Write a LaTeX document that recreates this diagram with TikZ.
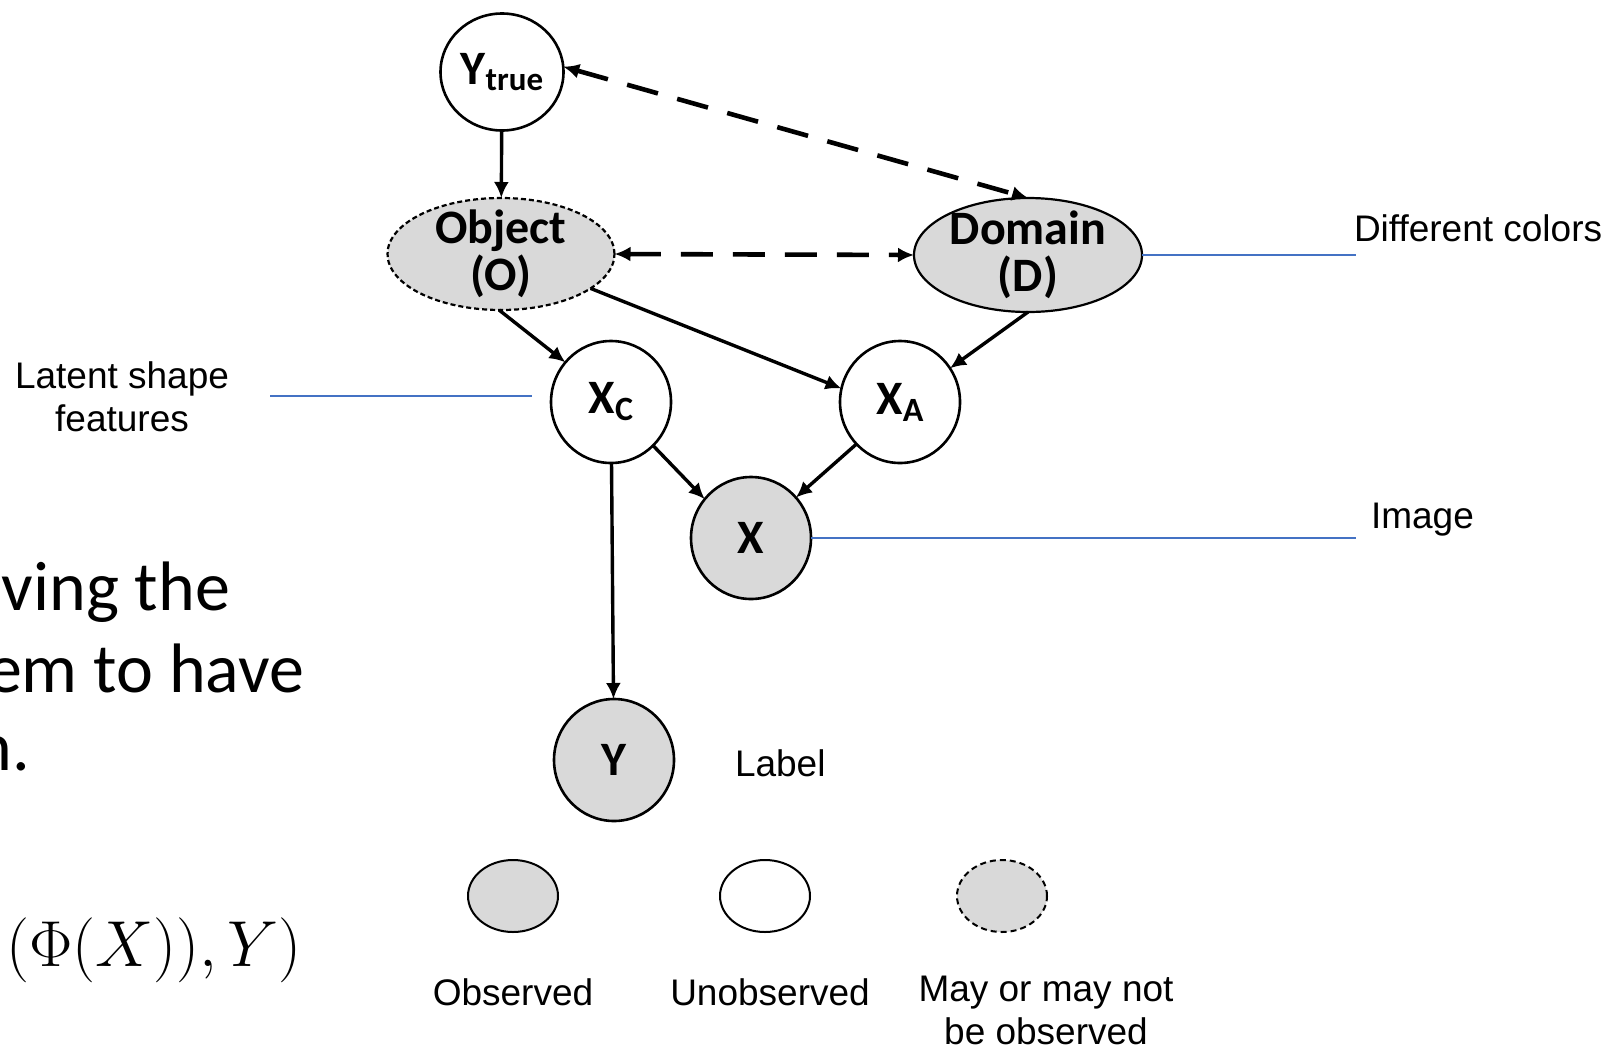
\RequirePackage{fix-cm}
\documentclass[tikz,border=0pt]{standalone}
\usepackage[no-math]{fontspec}
\setmainfont{Liberation Sans}
\newfontfamily\carl{Carlito}
\usetikzlibrary{arrows.meta,shapes.geometric}
\definecolor{nodegray}{gray}{0.85}
\definecolor{leaderblue}{RGB}{68,114,196}
\begin{document}
\begin{tikzpicture}[x=0.5pt,y=-0.5pt,
  every node/.style={inner sep=0pt,outer sep=0pt},
  var/.style={ellipse,draw,line width=1.3pt,minimum width=60pt,minimum height=61pt,align=center,
    font=\carl\bfseries\fontsize{24}{23.5}\selectfont},
  obs/.style={var,fill=nodegray},
  tip/.tip={Latex[length=8pt,width=7.5pt]},
  edge/.style={line width=1.7pt,-tip},
  dedge/.style={line width=2.3pt,dash pattern=on 16pt off 10pt,tip-tip},
  lead/.style={leaderblue,line width=0.8pt},
  lbl/.style={font=\fontsize{18.5}{21.5}\selectfont,align=center},
  big/.style={font=\carl\fontsize{35}{40}\selectfont,anchor=base east},
  leg/.style={ellipse,draw,line width=1pt,minimum width=45pt,minimum height=36pt},
]
\useasboundingbox (0,0) rectangle (1611,1050);
\fill[white] (0,0) rectangle (1611,1050);

% left slide text (cut off at the left edge)
\node[big] (t1) at (230,610) {ving the};
\node[big] (t2) at (304,692) {em to have};
\node[big] (t3) at (30,770) {n.};
\node[anchor=base east,font=\fontsize{32.5}{40}\selectfont] (f1) at (302,966) {$(\Phi(X)),Y)$};

% graph nodes
\node[var,minimum width=61.5pt,minimum height=58.5pt] (Yt) at (502,72)
  {Y\raisebox{-0.25ex}{\fontsize{16.5}{16.5}\selectfont true}};
\node[obs,draw=none,inner sep=-6pt,minimum width=113.5pt,minimum height=56pt] (O) at (501,254) {Object\\(O)};
\draw[line width=1.1pt,dash pattern=on 2.5pt off 1.5pt] (O.center) ellipse [x radius=56.75pt,y radius=28pt];
\node[obs,line width=1.1pt,inner sep=-6pt,minimum width=114pt,minimum height=57pt] (D) at (1028,255) {Domain\\(D)};
\node[var] (Xc) at (611,402) {X\raisebox{-0.3ex}{\fontsize{17}{17}\selectfont C}};
\node[var] (XA) at (900,402) {X\raisebox{-0.3ex}{\fontsize{17}{17}\selectfont A}};
\node[obs] (X) at (751,538) {X};
\node[obs] (Y) at (614,760) {Y};

% edges
\draw[edge] (Yt) -- (O);
\draw[dedge] (Yt.5) -- (D.north);
\draw[dedge] (O.east) -- (D.west);
\draw[edge] (O.-92) -- (Xc.139);
\draw[edge] (O.-21) -- (XA.167);
\draw[edge] (D.south) -- (XA.34);
\draw[edge] (Xc.-46) -- (X.140);
\draw[edge] (XA.-136) -- (X.42);
\draw[edge] (Xc) -- (Y);

% annotations
\node[lbl] (lat) at (122,397) {Latent shape\\features};
\coordinate (latA) at (270,396);
\coordinate (latB) at (532,396);
\draw[lead] (latA) -- (latB);
\node[lbl,anchor=west] (dc) at (1354,228) {Different colors};
\coordinate (dcB) at (1356,253);
\draw[lead] (D.east) -- (D.east -| dcB);
\node[lbl,anchor=west] (im) at (1371,520) {Image};
\coordinate (imB) at (1356,540);
\draw[lead] (X.east) -- (X.east -| imB);
\node[lbl,anchor=west] (lab) at (735,763) {Label};

% legend
\node[leg,fill=nodegray] (l1) at (513,896) {};
\node[leg,fill=white] (l2) at (765,896) {};
\node[leg,fill=nodegray,dash pattern=on 3pt off 2pt] (l3) at (1002,896) {};
\node[lbl] (l1t) at (513,992) {Observed};
\node[lbl] (l2t) at (770,992) {Unobserved};
\node[lbl] (l3t) at (1046,1010) {May or may not\\be observed};
\end{tikzpicture}
\end{document}
